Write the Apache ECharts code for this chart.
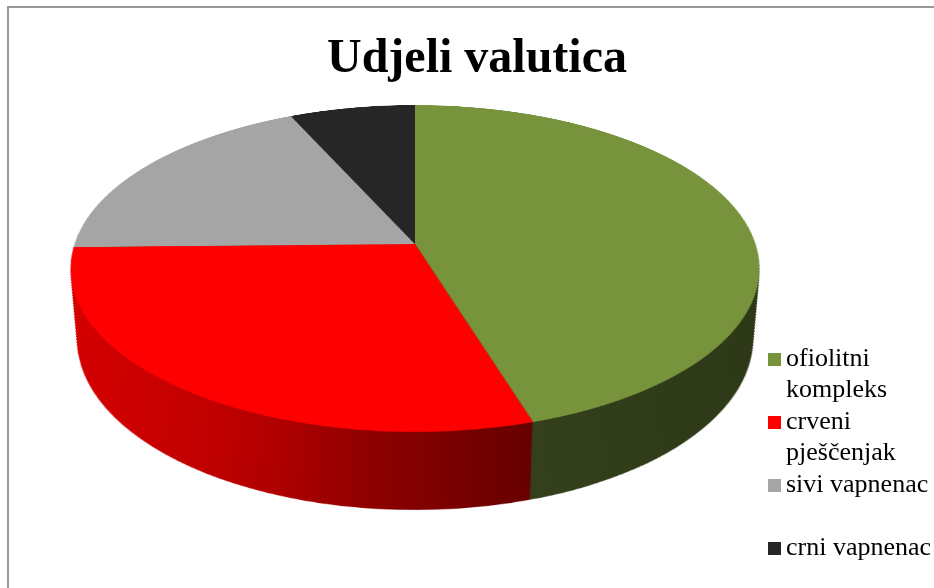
<!DOCTYPE html>
<html><head><meta charset="utf-8">
<script src="https://cdn.jsdelivr.net/npm/echarts@6/dist/echarts.min.js"></script>
<style>
html,body{margin:0;padding:0;width:934px;height:588px;overflow:hidden;background:#fff;}
#frame{position:absolute;left:7px;top:6px;width:940px;height:600px;border-left:2px solid #999;border-top:2px solid #999;}
#bg{position:absolute;left:9px;top:8px;width:936px;height:580px;}
#pie{position:absolute;left:0;top:-106px;width:934px;height:810px;transform-origin:415px 350px;transform:perspective(2008px) rotateX(62.02deg);}
</style></head><body>
<div id="frame"></div>
<div id="bg"></div>
<div id="pie"></div>
<script>
// ---- data ----
const categories = ['ofiolitni kompleks', 'crveni pješčenjak', 'sivi vapnenac', 'crni vapnenac'];
const shares = [45.2, 29.5, 18.5, 6.8];
const topColors = ['#77933c', '#ff0000', '#a5a5a5', '#262626'];
const titleText = 'Udjeli valutica';
const legendText = ['ofiolitni\nkompleks', 'crveni\npješčenjak', 'sivi vapnenac\n\u00a0', 'crni vapnenac\n\u00a0'];

// ---- 3D geometry of the tilted pie ----
const R = 340.6, TILT = 62.02, PERSP = 2008, DEPTH = 80.8, LAYERS = 40, CX = 415, CY = 350;
const rad = TILT * Math.PI / 180, cosA = Math.cos(rad), tanA = Math.tan(rad);

const redSide = {type: 'linear', x: 75, y: 0, x2: 518, y2: 0, global: true, colorStops: [
  {offset: 0, color: '#d60000'}, {offset: 0.214, color: '#cc0000'}, {offset: 0.381, color: '#c00000'},
  {offset: 0.526, color: '#ad0000'}, {offset: 0.695, color: '#8c0000'}, {offset: 0.84, color: '#7a0000'},
  {offset: 1, color: '#650000'}]};
const greenSide = {type: 'linear', x: 518, y: 0, x2: 760, y2: 0, global: true, colorStops: [
  {offset: 0, color: '#33401b'}, {offset: 1, color: '#2c3716'}]};
const sideColors = [greenSide, redSide, '#595959', '#141414'];

function pieData(colors) {
  return categories.map((n, i) => ({name: n, value: shares[i], itemStyle: {color: colors[i]}}));
}
const common = {type: 'pie', startAngle: 90, clockwise: true, silent: true, label: {show: false},
  labelLine: {show: false}, emphasis: {disabled: true}, itemStyle: {borderWidth: 0}, animation: false};

const pieSeries = [];
for (let j = LAYERS; j >= 1; j--) {
  const d = DEPTH * j / LAYERS;
  const lam = PERSP * cosA / (PERSP * cosA + d);
  pieSeries.push(Object.assign({}, common, {
    center: [CX, CY + lam * d * tanA], radius: [0, lam * R], z: 2 + LAYERS - j, data: pieData(sideColors)
  }));
}
pieSeries.push(Object.assign({}, common, {center: [CX, CY], radius: [0, R], z: LAYERS + 10, data: pieData(topColors)}));

const pieChart = echarts.init(document.getElementById('pie'), null, {renderer: 'canvas'});
pieChart.setOption({animation: false, series: pieSeries});

const bgChart = echarts.init(document.getElementById('bg'), null, {renderer: 'canvas'});
bgChart.setOption({
  animation: false,
  title: {text: titleText, left: 'center', top: 28, padding: 0,
    textStyle: {fontFamily: 'Liberation Serif', fontWeight: 'bold', fontSize: 48, color: '#000'}},
  legend: {orient: 'vertical', left: 759, top: 305, height: 400, padding: 0, itemWidth: 13, itemHeight: 13,
    itemGap: -30, icon: 'rect', selectedMode: false, data: categories,
    // an empty first line keeps the first text line level with the legend square
    formatter: n => '\u00a0\n' + legendText[categories.indexOf(n)],
    textStyle: {fontFamily: 'Liberation Serif', fontSize: 26, lineHeight: 31, color: '#000'}},
  series: [{type: 'pie', radius: [0, 0], center: [0, 0], silent: true, label: {show: false}, labelLine: {show: false},
    data: pieData(topColors)}]
});
</script>
</body></html>
